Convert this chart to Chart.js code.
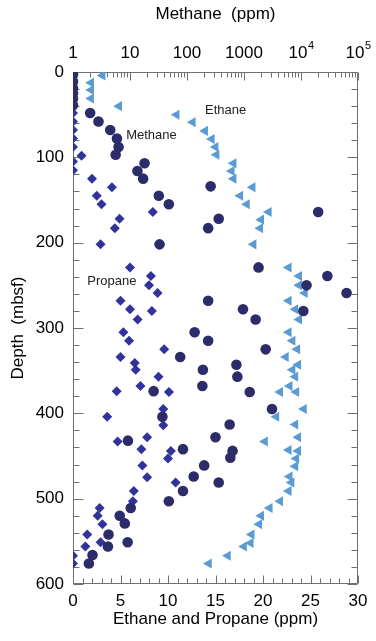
<!DOCTYPE html>
<html><head><meta charset="utf-8">
<script src="https://cdn.jsdelivr.net/npm/chart.js@4.4.0/dist/chart.umd.min.js"></script>
<style>html,body{margin:0;padding:0;background:#fff}#wrap{width:376px;height:641px}</style>
</head><body><div id="wrap"><canvas id="c" width="376" height="641"></canvas></div>
<script>
// ---- data (depth in mbsf, concentrations in ppm) ----
const methaneDepth = [3,11,19,25,31,39,48,58,68,78,88,97,107,116,125,134,145,155,164,172,183,202,229,239,250,259,268,278,280,290,305,315,325,334,343,349,357,368,374,375,395,404,413,428,432,442,444,452,461,474,481,491,503,511,520,529,542,551,556,566,576];
const methanePpm   = [1,1,1,1,1,1,2.0,2.8,4.5,5.9,6.3,5.6,18,13.5,17,260,32,48,20000,360,235,33,1800,29000,12500,63000,235,960,11000,1600,136,235,2400,76,735,190,765,186,26,1260,3100,37,560,316,9.2,85,630,575,200,131,360,85,48,10.3,6.6,8.1,4.2,9.1,4.1,2.2,1.9];

const ethaneDepth = [4,12.5,21,31,40,50,59,69,78.5,88,97,107,116,125,135,145,155,164,173,183,202,229,239,250,259,268,278,290,305,315,325,334,343,349,357,368,375,375,395,404,413,428,433,443,444,453,462,474,481,491,503,511,520,530,542,552,556,567,576];
const ethanePpm   = [3.1,1.9,1.9,1.9,4.85,10.9,12.6,13.9,14.6,15.0,15.1,16.9,16.7,16.9,18.9,17.6,18.3,20.6,19.8,19.7,19.0,22.7,23.8,23.8,24.4,22.7,23.4,23.8,22.7,23.1,23.6,22.4,23.7,23.1,23.4,22.8,21.8,23.5,24.3,21.4,23.4,23.7,20.2,22.7,23.7,23.5,23.4,22.8,23.0,22.7,21.8,20.7,19.8,19.6,18.8,18.7,18.0,16.3,14.3];

const propaneDepth = [3,11,19,25,31,39,48,58,68,78,88,98,105,115,125,135,145,155,164,172,183,202,229,239,250,259,268,278,280,290,305,315,325,334,341,349,357,368,374,375,395,404,414,428,433,442,444,453,461,475,481,491,503,511,520,530,542,551,556,567,576];
const propanePpm   = [0,0,0,0,0,0,0,0,0,0,0,0.9,0,0,2.0,4.1,2.5,3.0,8.4,4.9,4.4,2.9,6.0,8.2,8.0,8.9,5.0,6.0,8.3,6.8,5.3,5.9,9.6,5.0,6.5,6.6,9.0,7.1,4.6,10.1,9.5,3.6,9.5,7.8,4.7,7.2,10.3,10.0,7.3,7.8,10.8,6.4,6.3,2.8,2.6,3.1,1.5,2.9,1.3,0,0];

// ---- axes / tick labels ----
const depthTicks = [0,100,200,300,400,500,600];
const ethPropTicks = [0,5,10,15,20,25,30];
const methaneTickValues = [1,10,100,1000,10000,100000];
const methaneTickBase = ['1','10','100','1000','10','10'];
const methaneTickExp  = ['','','','','4','5'];
const seriesLabels = [
  {text:'Ethane',  x:13.9, depth:45},
  {text:'Methane', x:5.6,  depth:74},
  {text:'Propane', x:1.5,  depth:246}
];

const FONT = '"Liberation Sans", Arial, Helvetica, sans-serif';
const AXIS = '#707070';

function pts(depths, vals){ return depths.map((d,i)=>({x:vals[i], y:d})); }

const framePlugin = {
  id:'frame',
  beforeDatasetsDraw(chart){
    const {ctx, chartArea:a, scales} = chart;
    ctx.save();
    ctx.strokeStyle = AXIS; ctx.lineWidth = 1;
    ctx.beginPath();
    const L = Math.round(a.left)+0.5, R = Math.round(a.right)-0.5, T = Math.round(a.top)+0.5, B = Math.round(a.bottom)-0.5;
    ctx.rect(L, T, R-L, B-T);
    for (let d=0; d<=600; d+=20){
      const y = Math.round(scales.y.getPixelForValue(d))+0.5;
      const len = d%100===0 ? 10 : 6;
      ctx.moveTo(L,y); ctx.lineTo(L+len,y);
      ctx.moveTo(R,y); ctx.lineTo(R-len,y);
    }
    for (let v=0; v<=30; v++){
      const x = Math.round(scales.x.getPixelForValue(v))+0.5;
      const len = v%5===0 ? 8 : 5;
      ctx.moveTo(x,B); ctx.lineTo(x,B-len);
    }
    for (let dec=1; dec<=100000; dec*=10){
      for (let m=1; m<=9; m++){
        const v = dec*m; if (v>100000) break;
        const x = Math.round(scales.xm.getPixelForValue(v))+0.5;
        const len = m===1 ? 8 : 5;
        ctx.moveTo(x,T); ctx.lineTo(x,T+len);
      }
    }
    ctx.stroke();
    ctx.restore();
  },
  afterDraw(chart){
    const {ctx, scales} = chart;
    ctx.save();
    ctx.fillStyle = '#000';
    ctx.textBaseline = 'alphabetic';
    methaneTickValues.forEach((v,i)=>{
      const x = scales.xm.getPixelForValue(v);
      ctx.font = '17px '+FONT;
      const wb = ctx.measureText(methaneTickBase[i]).width;
      ctx.font = '11px '+FONT;
      const we = methaneTickExp[i] ? ctx.measureText(methaneTickExp[i]).width : 0;
      const x0 = x - (wb+we)/2;
      ctx.font = '17px '+FONT;
      ctx.textAlign = 'left';
      ctx.fillText(methaneTickBase[i], x0, 58);
      if (we){ ctx.font = '11px '+FONT; ctx.fillText(methaneTickExp[i], x0+wb+0.5, 49); }
    });
    ctx.font = '13px '+FONT;
    ctx.fillStyle = '#222';
    ctx.textBaseline = 'middle';
    seriesLabels.forEach(s=>{
      ctx.fillText(s.text, scales.x.getPixelForValue(s.x), scales.y.getPixelForValue(s.depth));
    });
    ctx.restore();
  }
};

new Chart(document.getElementById('c'), {
  type:'scatter',
  data:{ datasets:[
    { label:'Methane', data:pts(methaneDepth, methanePpm), xAxisID:'xm', yAxisID:'y',
      pointStyle:'circle', pointRadius:5.3, pointHoverRadius:5.3, backgroundColor:'#2d2c6b', borderColor:'#2d2c6b', borderWidth:0 },
    { label:'Propane', data:pts(propaneDepth, propanePpm), xAxisID:'x', yAxisID:'y',
      pointStyle:'rectRot', pointRadius:5, pointHoverRadius:5, backgroundColor:'#32329c', borderColor:'#32329c', borderWidth:0 },
    { label:'Ethane', data:pts(ethaneDepth, ethanePpm), xAxisID:'x', yAxisID:'y',
      pointStyle:'triangle', rotation:-90, pointRadius:5.8, pointHoverRadius:5.8, backgroundColor:'#5b9bd3', borderColor:'#5b9bd3', borderWidth:0 }
  ]},
  options:{
    responsive:false, devicePixelRatio:1, animation:false,
    layout:{padding:0},
    plugins:{ legend:{display:false}, tooltip:{enabled:false} },
    scales:{
      x:{ type:'linear', position:'bottom', min:0, max:30,
        grid:{display:false, drawTicks:false}, border:{display:false},
        afterBuildTicks(s){ s.ticks = ethPropTicks.map(v=>({value:v})); },
        ticks:{ color:'#000', font:{family:FONT, size:17}, padding:7, maxRotation:0, autoSkip:false },
        title:{ display:true, text:'Ethane and Propane (ppm)', color:'#000', font:{family:FONT, size:17}, padding:{top:0,bottom:11} },
        afterFit(s){ s.height = 57; } },
      xm:{ type:'logarithmic', position:'top', min:1, max:100000,
        grid:{display:false, drawTicks:false}, border:{display:false},
        ticks:{ display:false },
        title:{ display:true, text:'Methane  (ppm)', color:'#000', font:{family:FONT, size:17}, padding:{top:4,bottom:0} },
        afterFit(s){ s.height = 72; } },
      y:{ type:'linear', position:'left', reverse:true, min:0, max:600,
        grid:{display:false, drawTicks:false}, border:{display:false},
        afterBuildTicks(s){ s.ticks = depthTicks.map(v=>({value:v})); },
        ticks:{ color:'#000', font:{family:FONT, size:17}, padding:9, autoSkip:false },
        title:{ display:true, text:'Depth  (mbsf)', color:'#000', font:{family:FONT, size:17}, padding:{top:8,bottom:0} },
        afterFit(s){ s.width = 73; } },
      y2:{ type:'linear', position:'right', reverse:true, min:0, max:600,
        grid:{display:false, drawTicks:false}, border:{display:false},
        ticks:{ display:false },
        afterFit(s){ s.width = 18; } }
    }
  },
  plugins:[framePlugin]
});
</script></body></html>
